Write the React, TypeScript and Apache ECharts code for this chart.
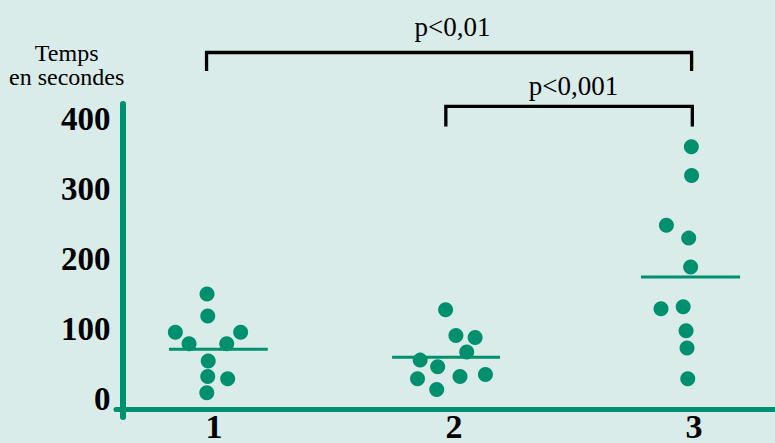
import React, { useEffect, useRef } from "react";
import * as echarts from "echarts";

// ---- data ----
const categories = [1, 2, 3];
const categoryLabels = ["1", "2", "3"];
const yTicks = [0, 100, 200, 300, 400];

const group1Values = [150.1, 118.9, 95.5, 95.5, 79.3, 79.3, 54.5, 32.6, 29.4, 9.4];
const group1Offsets = [-0.029, -0.026, -0.161, 0.111, -0.104, 0.053, -0.024, -0.026, 0.057, -0.03];

const group2Values = [127.7, 90.9, 88.1, 67.6, 55.9, 46.6, 29.4, 32.6, 35.4, 14.0];
const group2Offsets = [-0.035, 0.008, 0.088, 0.053, -0.141, -0.068, -0.152, 0.025, 0.131, -0.072];

const group3Values = [359.9, 318.9, 248.0, 229.8, 188.8, 129.1, 131.9, 97.9, 73.1, 29.4];
const group3Offsets = [-0.011, -0.01, -0.115, -0.022, -0.014, -0.1375, -0.045, -0.033, -0.029, -0.026];

const groupMeans = [71.3, 60.1, 174.4];
const meanLineLeft = [-0.1875, -0.258, -0.221];
const meanLineRight = [0.224, 0.192, 0.192];

// significance brackets
const bracketFrom = [0.969, 1.966];
const bracketTo = [2.99, 2.993];
const bracketTop = [494.4, 417.5];
const bracketFoot = [468, 388.8];
const bracketLabels = ["p<0,01", "p<0,001"];

const GREEN = "#00906e";
const BG = "#daece9";

export default function App() {
  const ref = useRef<HTMLDivElement>(null);

  useEffect(() => {
    if (!ref.current) return;
    const chart = echarts.init(ref.current, null, { renderer: "svg" });

    const groups = [
      { values: group1Values, offsets: group1Offsets },
      { values: group2Values, offsets: group2Offsets },
      { values: group3Values, offsets: group3Offsets },
    ];

    const dotSeries = groups.map((g, gi) => ({
      type: "scatter",
      name: "Groupe " + categoryLabels[gi],
      symbol: "circle",
      symbolSize: 15,
      itemStyle: { color: GREEN, opacity: 1 },
      data: g.values.map((v, i) => [categories[gi] + g.offsets[i], v]),
      z: 3,
    }));

    const meanSeries = groupMeans.map((m, gi) => ({
      type: "line",
      name: "Moyenne " + categoryLabels[gi],
      symbol: "none",
      lineStyle: { color: GREEN, width: 3 },
      data: [
        [categories[gi] + meanLineLeft[gi], m],
        [categories[gi] + meanLineRight[gi], m],
      ],
      z: 2,
    }));

    const bracketSeries = bracketFrom.map((f, bi) => ({
      type: "line",
      name: bracketLabels[bi],
      symbol: "none",
      clip: false,
      lineStyle: { color: "#000", width: 3.3, join: "miter" },
      data: [
        [f, bracketFoot[bi]],
        [f, bracketTop[bi]],
        [bracketTo[bi], bracketTop[bi]],
        [bracketTo[bi], bracketFoot[bi]],
      ],
      z: 2,
    }));

    const serifText = (text: string, x: number, y: number, size: number, vAlign: string) => ({
      type: "text",
      x,
      y,
      style: {
        text,
        fontFamily: "Liberation Serif",
        fontSize: size,
        fill: "#000",
        align: "center",
        verticalAlign: vAlign,
      },
    });

    chart.setOption({
      animation: false,
      backgroundColor: BG,
      grid: { left: 116, right: 0, top: 104, bottom: 20, containLabel: false },
      xAxis: {
        type: "value",
        min: 0.5917,
        max: 3.3375,
        offset: -8,
        axisLine: { onZero: false, lineStyle: { color: GREEN, width: 5 } },
        axisTick: { show: false },
        splitLine: { show: false },
        axisLabel: {
          customValues: categories,
          formatter: (v: number) => categoryLabels[categories.indexOf(Math.round(v))] ?? "",
          color: "#000",
          fontFamily: "Liberation Serif",
          fontWeight: "bold",
          fontSize: 34,
          margin: 0,
        },
      },
      yAxis: {
        type: "value",
        min: -25.17,
        max: 420.98,
        offset: -6.5,
        axisLine: { show: true, lineStyle: { color: GREEN, width: 6 } },
        axisTick: { show: false },
        splitLine: { show: false },
        axisLabel: {
          customValues: yTicks,
          formatter: (v: number) => String(v),
          color: "#000",
          fontFamily: "Liberation Serif",
          fontWeight: "bold",
          fontSize: 33,
          margin: 12,
        },
      },
      graphic: [
        serifText("Temps", 66.7, 53, 24, "middle"),
        serifText("en secondes", 66.7, 77, 24, "middle"),
        serifText(bracketLabels[0], 452.5, 27, 27, "middle"),
        serifText(bracketLabels[1], 573.5, 86, 27, "middle"),
      ],
      series: [...bracketSeries, ...meanSeries, ...dotSeries],
    });

    return () => chart.dispose();
  }, []);

  return (
    <div
      ref={ref}
      style={{ position: "fixed", left: 0, top: 0, width: 775, height: 443 }}
    />
  );
}
